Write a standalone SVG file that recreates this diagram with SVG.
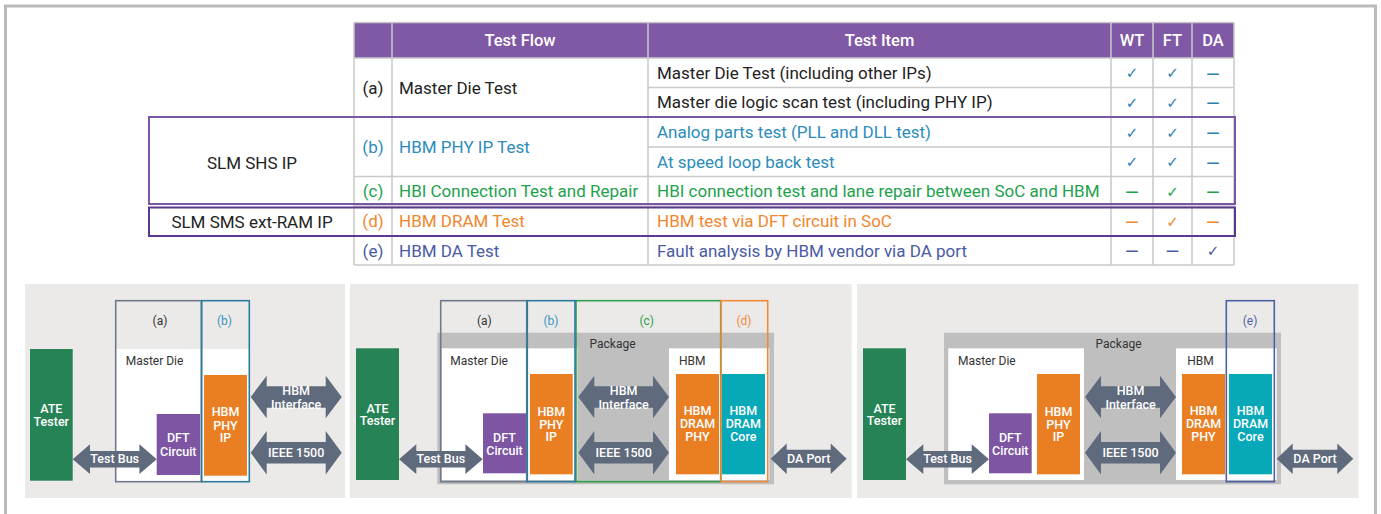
<svg xmlns="http://www.w3.org/2000/svg" width="1381" height="514" viewBox="0 0 1381 514">
<style>
text{font-family:Roboto,"Liberation Sans",sans-serif}
.t{font-size:17px;fill:#222}
.th{font-size:16.5px;fill:#fff;font-weight:500;text-anchor:middle}
.c{text-anchor:middle}
.sym{font-family:"DejaVu Sans",sans-serif;font-size:15px;text-anchor:middle}
.dash{font-family:"DejaVu Sans",sans-serif;font-size:13px;text-anchor:middle;font-weight:bold}
.grid{stroke:#c9c9c9;stroke-width:1.5;fill:none}
.bl{fill:#2b8cba}.gr{fill:#22a14c}.or{fill:#f0862d}.in{fill:#4a5aa6}.ak{fill:#2b7fb0}
.panel{fill:#ebeae8}
.pkg{fill:#bfbfbf}
.wh{fill:#fff}
.lbl{font-size:12px;fill:#333}
.w{font-size:12.5px;fill:#fff;font-weight:500;text-anchor:middle}
.arr{fill:#5f6a7c}
.box{fill:none;stroke-width:1.6}
</style>
<rect x="5.5" y="6" width="1370" height="530" fill="#fff" stroke="#bbb" stroke-width="3"/>

<g id="table">
<rect x="354" y="22.5" width="880" height="35.5" fill="#7f58a6"/>
<g class="grid">
<path d="M354 22.5V265M392 22.5V265M648 22.5V265M1111 22.5V265M1153 22.5V265M1192 22.5V265M1234 22.5V265"/>
<path d="M354 22.5H1234M354 58H1234M648 87.5H1234M354 117H1234M648 147H1234M354 176.5H1234M354 206H1234M354 236H1234M354 265H1234"/>
</g>
<text class="th" x="520" y="46">Test Flow</text>
<text class="th" x="879.5" y="46">Test Item</text>
<text class="th" x="1132" y="46">WT</text>
<text class="th" x="1172.5" y="46">FT</text>
<text class="th" x="1213" y="46">DA</text>

<text class="t c" x="373" y="93.5">(a)</text>
<text class="t" x="399" y="93.5">Master Die Test</text>
<text class="t" x="657" y="78.8">Master Die Test (including other IPs)</text>
<text class="t" x="657" y="108.3">Master die logic scan test (including PHY IP)</text>
<text class="sym ak" x="1132" y="78.3">✓</text><text class="sym ak" x="1172.5" y="78.3">✓</text><text class="dash ak" x="1213" y="77.5">—</text>
<text class="sym ak" x="1132" y="107.8">✓</text><text class="sym ak" x="1172.5" y="107.8">✓</text><text class="dash ak" x="1213" y="107">—</text>

<text class="t c bl" x="373" y="153">(b)</text>
<text class="t bl" x="399" y="153">HBM PHY IP Test</text>
<text class="t bl" x="657" y="138">Analog parts test (PLL and DLL test)</text>
<text class="t bl" x="657" y="167.8">At speed loop back test</text>
<text class="sym ak" x="1132" y="137.5">✓</text><text class="sym ak" x="1172.5" y="137.5">✓</text><text class="dash ak" x="1213" y="136.7">—</text>
<text class="sym ak" x="1132" y="167.3">✓</text><text class="sym ak" x="1172.5" y="167.3">✓</text><text class="dash ak" x="1213" y="166.5">—</text>

<text class="t c gr" x="373" y="197.3">(c)</text>
<text class="t gr" x="399" y="197.3">HBI Connection Test and Repair</text>
<text class="t gr" x="657" y="197.3">HBI connection test and lane repair between SoC and HBM</text>
<text class="dash gr" x="1132" y="196">—</text><text class="sym gr" x="1172.5" y="196.8">✓</text><text class="dash gr" x="1213" y="196">—</text>

<text class="t c or" x="373" y="227">(d)</text>
<text class="t or" x="399" y="227">HBM DRAM Test</text>
<text class="t or" x="657" y="227">HBM test via DFT circuit in SoC</text>
<text class="dash or" x="1132" y="225.7">—</text><text class="sym or" x="1172.5" y="226.5">✓</text><text class="dash or" x="1213" y="225.7">—</text>

<text class="t c in" x="373" y="256.5">(e)</text>
<text class="t in" x="399" y="256.5">HBM DA Test</text>
<text class="t in" x="657" y="256.5">Fault analysis by HBM vendor via DA port</text>
<text class="dash in" x="1132" y="255.2">—</text><text class="dash in" x="1172.5" y="255.2">—</text><text class="sym in" x="1213" y="256">✓</text>
</g>

<g id="slm-shs">
<rect x="149" y="117" width="1086" height="87" fill="none" stroke="#7a56a6" stroke-width="2"/>
<text class="t c" x="252" y="169">SLM SHS IP</text>
</g>
<g id="slm-sms">
<rect x="149" y="207.5" width="1086" height="28.5" fill="none" stroke="#5b3790" stroke-width="2"/>
<text class="t c" x="252" y="227.5">SLM SMS ext-RAM IP</text>
</g>

<!-- Panel 1 -->
<g id="panel1">
<rect class="panel" x="25" y="284" width="320" height="214"/>
<rect class="wh" x="116" y="349" width="134" height="132.7"/>
<text class="lbl" x="125.7" y="365.2">Master Die</text>
<g id="p1-ate"><rect x="30" y="349" width="42.7" height="131.7" fill="#268356"/><text class="w" x="51.3" y="413.2">ATE</text><text class="w" x="51.3" y="426">Tester</text></g>
<g id="p1-dft"><rect x="156.7" y="414" width="43.3" height="61" fill="#7d55a2"/><text class="w" x="178.3" y="442.2">DFT</text><text class="w" x="178.3" y="456">Circuit</text></g>
<g id="p1-phy"><rect x="204" y="375" width="43" height="100.7" fill="#e97e23"/><text class="w" x="225.5" y="416.2">HBM</text><text class="w" x="225.5" y="429.5">PHY</text><text class="w" x="225.5" y="442">IP</text></g>
<g id="p1-a"><rect class="box" x="115.7" y="300.7" width="85.6" height="181" stroke="#6f7b8c"/><text class="lbl c" x="160" y="324.5">(a)</text></g>
<g id="p1-b"><rect class="box" x="201.7" y="300.7" width="47.6" height="181" stroke="#2a7c9f"/><text class="lbl c" x="224.5" y="324.5" style="fill:#3a96bf">(b)</text></g>
</g>

<!-- Panel 2 -->
<g id="panel2">
<rect class="panel" x="350" y="284" width="501.7" height="214"/>
<rect class="pkg" x="437.3" y="332.7" width="336.7" height="151.6"/>
<text class="lbl c" x="612.5" y="348.2">Package</text>
<rect class="wh" x="441.7" y="348.3" width="135.6" height="131.7"/>
<text class="lbl" x="450.3" y="365.2">Master Die</text>
<rect class="wh" x="669" y="348.3" width="100.3" height="131.7"/>
<text class="lbl" x="679" y="365.2">HBM</text>
<g id="p2-ate"><rect x="356" y="348.3" width="43" height="131.7" fill="#268356"/><text class="w" x="377.5" y="412.5">ATE</text><text class="w" x="377.5" y="425.2">Tester</text></g>
<g id="p2-dft"><rect x="483" y="413.3" width="43" height="60" fill="#7d55a2"/><text class="w" x="504.5" y="441.5">DFT</text><text class="w" x="504.5" y="455.3">Circuit</text></g>
<g id="p2-phy"><rect x="530" y="374" width="42.7" height="100.3" fill="#e97e23"/><text class="w" x="551.3" y="415.5">HBM</text><text class="w" x="551.3" y="428.8">PHY</text><text class="w" x="551.3" y="441.3">IP</text></g>
<g id="p2-dphy"><rect x="676" y="374" width="43" height="100.3" fill="#e97e23"/><text class="w" x="697.5" y="415">HBM</text><text class="w" x="697.5" y="428.2">DRAM</text><text class="w" x="697.5" y="441">PHY</text></g>
<g id="p2-core"><rect x="721.7" y="374" width="43.3" height="100.3" fill="#07a8b8"/><text class="w" x="743.3" y="415">HBM</text><text class="w" x="743.3" y="428.2">DRAM</text><text class="w" x="743.3" y="441">Core</text></g>
<g id="p2-a"><rect class="box" x="440.7" y="300.7" width="86" height="181" stroke="#6f7b8c"/><text class="lbl c" x="484.3" y="324.5">(a)</text></g>
<g id="p2-c"><rect class="box" x="576" y="300.7" width="144.7" height="181" stroke="#2ea04c"/><text class="lbl c" x="646.7" y="324.5" style="fill:#2ea04c">(c)</text></g>
<g id="p2-d"><rect class="box" x="721" y="300.7" width="46.7" height="181" stroke="#ee8a3a"/><text class="lbl c" x="744" y="324.5" style="fill:#ee8a3a">(d)</text></g>
<g id="p2-b"><rect class="box" x="527.3" y="300.7" width="47.7" height="181" stroke="#2a7c9f"/><text class="lbl c" x="551" y="324.5" style="fill:#3a96bf">(b)</text></g>
</g>

<!-- Panel 3 -->
<g id="panel3">
<rect class="panel" x="857" y="284" width="501.5" height="214"/>
<rect class="pkg" x="944" y="332.7" width="337" height="151.6"/>
<text class="lbl c" x="1118.5" y="348.2">Package</text>
<rect class="wh" x="948.3" y="348.3" width="135.7" height="131.7"/>
<text class="lbl" x="958" y="365.2">Master Die</text>
<rect class="wh" x="1176" y="348.3" width="100.7" height="131.7"/>
<text class="lbl" x="1187.3" y="365.2">HBM</text>
<g id="p3-ate"><rect x="863" y="348.3" width="43" height="131.7" fill="#268356"/><text class="w" x="884.5" y="412.5">ATE</text><text class="w" x="884.5" y="425.2">Tester</text></g>
<g id="p3-dft"><rect x="989" y="413.3" width="42.7" height="60" fill="#7d55a2"/><text class="w" x="1010.3" y="441.5">DFT</text><text class="w" x="1010.3" y="455.3">Circuit</text></g>
<g id="p3-phy"><rect x="1037" y="374" width="43" height="100.3" fill="#e97e23"/><text class="w" x="1058.5" y="415.5">HBM</text><text class="w" x="1058.5" y="428.8">PHY</text><text class="w" x="1058.5" y="441.3">IP</text></g>
<g id="p3-dphy"><rect x="1182" y="374" width="43" height="100.3" fill="#e97e23"/><text class="w" x="1203.5" y="415">HBM</text><text class="w" x="1203.5" y="428.2">DRAM</text><text class="w" x="1203.5" y="441">PHY</text></g>
<g id="p3-core"><rect x="1229" y="374" width="43" height="100.3" fill="#07a8b8"/><text class="w" x="1250.5" y="415">HBM</text><text class="w" x="1250.5" y="428.2">DRAM</text><text class="w" x="1250.5" y="441">Core</text></g>
<g id="p3-e"><rect class="box" x="1226.3" y="300.7" width="48" height="181" stroke="#4d62a6"/><text class="lbl c" x="1250" y="324.5" style="fill:#4d62a6">(e)</text></g>
</g>

<g id="connectors">
<!-- panel 1 -->
<path class="arr" d="M72.7 459.2L90 444.3V450.9H139.4V444.3L156.7 459.2L139.4 474V467.5H90V474Z"/>
<text class="w" x="114.7" y="463.4">Test Bus</text>
<path class="arr" d="M250.7 397L266.7 375.7V386.2H325.7V375.7L341.7 397L325.7 418.3V407.8H266.7V418.3Z"/>
<text class="w" x="296.2" y="395.2">HBM</text><text class="w" x="296.2" y="408.5">Interface</text>
<path class="arr" d="M250.7 452.7L266.7 431V441.9H325.7V431L341.7 452.7L325.7 474.4V463.5H266.7V474.4Z"/>
<text class="w" x="296.2" y="456.9">IEEE 1500</text>
<!-- panel 2 -->
<path class="arr" d="M399 459.2L416.3 444.3V450.9H465.4V444.3L482.7 459.2L465.4 474V467.5H416.3V474Z"/>
<text class="w" x="440.8" y="463.4">Test Bus</text>
<path class="arr" d="M578.3 397L594.3 375.7V386.2H653V375.7L669 397L653 418.3V407.8H594.3V418.3Z"/>
<text class="w" x="623.7" y="395.2">HBM</text><text class="w" x="623.7" y="408.5">Interface</text>
<path class="arr" d="M578.3 452.7L594.3 431V441.9H653V431L669 452.7L653 474.4V463.5H594.3V474.4Z"/>
<text class="w" x="623.7" y="456.9">IEEE 1500</text>
<path class="arr" d="M770.7 458.7L786.7 443.4V449.7H830.7V443.4L846.7 458.7L830.7 474V467.7H786.7V474Z"/>
<text class="w" x="808.7" y="462.9">DA Port</text>
<!-- panel 3 -->
<path class="arr" d="M906 459.2L923.3 444.3V450.9H971.7V444.3L989 459.2L971.7 474V467.5H923.3V474Z"/>
<text class="w" x="947.5" y="463.4">Test Bus</text>
<path class="arr" d="M1085 397L1101 375.7V386.2H1160V375.7L1176 397L1160 418.3V407.8H1101V418.3Z"/>
<text class="w" x="1130.5" y="395.2">HBM</text><text class="w" x="1130.5" y="408.5">Interface</text>
<path class="arr" d="M1085 452.7L1101 431V441.9H1160V431L1176 452.7L1160 474.4V463.5H1101V474.4Z"/>
<text class="w" x="1130.5" y="456.9">IEEE 1500</text>
<path class="arr" d="M1276.7 458.7L1292.7 443.4V449.7H1337.3V443.4L1353.3 458.7L1337.3 474V467.7H1292.7V474Z"/>
<text class="w" x="1315" y="462.9">DA Port</text>
</g>
</svg>
